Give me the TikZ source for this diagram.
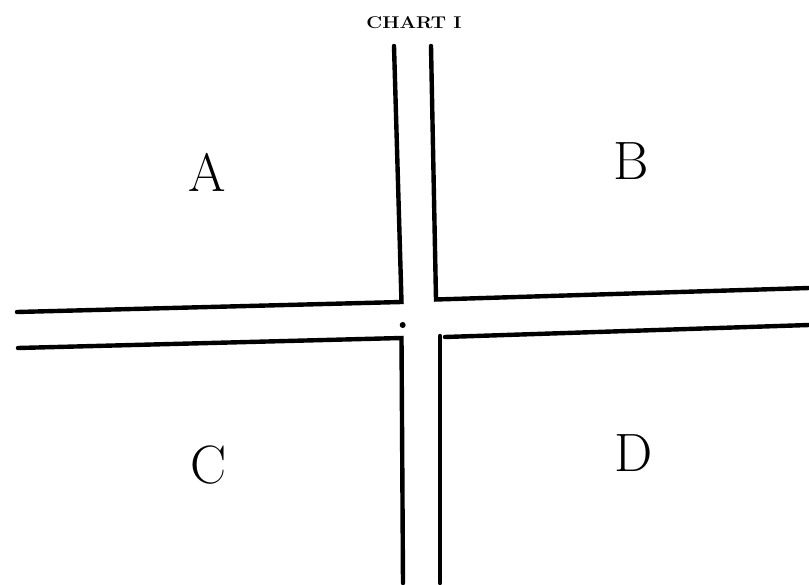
\documentclass[tikz,border=0pt]{standalone}
\begin{document}
\begin{tikzpicture}[x=1pt, y=-1pt, line width=4.4pt, line cap=round,
  region/.style={font=\fontsize{54}{54}\selectfont},
  title/.style={font=\bfseries\fontsize{17}{17}\selectfont}]
  \useasboundingbox (0,0) rectangle (809,585);

  % road edges, north
  \coordinate (NW) at (394, 46);
  \coordinate (NE) at (431, 46);
  % inner corners of the crossing
  \coordinate (CA) at (401.5,302);
  \coordinate (CB) at (436,299.5);
  \coordinate (CC) at (401.5,338);
  \coordinate (CD) at (440,336);
  % road ends
  \coordinate (WN) at ( 17,312);
  \coordinate (WS) at ( 18,348);
  \coordinate (EN) at (809,288);
  \coordinate (ES) at (809,325);
  \coordinate (SW) at (403,583);
  \coordinate (SE) at (440,583);

  \draw (NW) -- (CA) -- (WN);
  \draw (NE) -- (CB) -- (EN);
  \draw (WS) -- (CC) -- (SW);
  \draw (CD) -- (SE);
  \draw (445,337) -- (ES);
  \fill (402.7,325) circle (3);

  \node[title] (t) at (414,23) {\scalebox{1.15}[1]{CHART I}};
  \node[region] (a) at (207,172) {A};
  \node[region] (b) at (631,161) {B};
  \node[region] (c) at (209,465) {C};
  \node[region] (d) at (634,453) {D};
\end{tikzpicture}
\end{document}
